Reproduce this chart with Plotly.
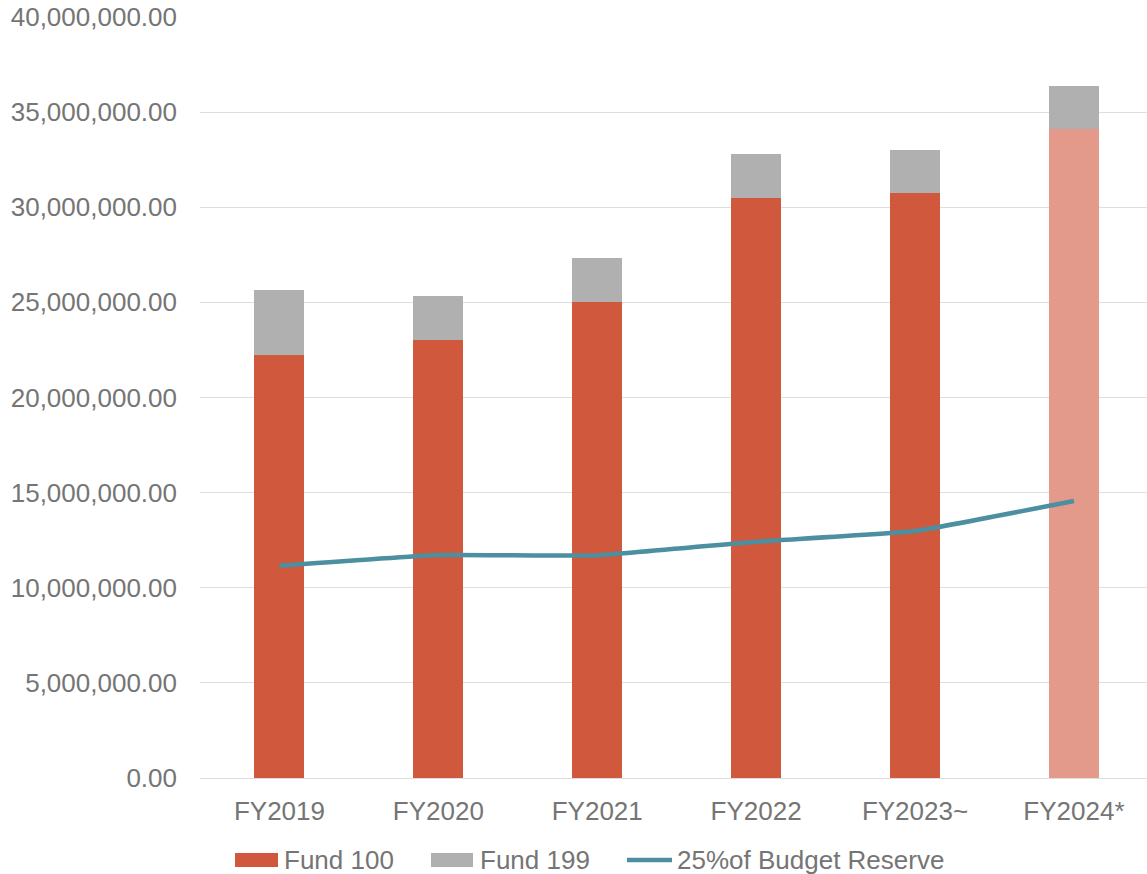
import plotly.graph_objects as go

# Fiscal years on the category axis
categories = ["FY2019", "FY2020", "FY2021", "FY2022", "FY2023~", "FY2024*"]

# Fund balances (dollars)
fund_100 = [22250000, 23040000, 25040000, 30500000, 30730000, 34110000]
fund_199 = [3400000, 2290000, 2280000, 2280000, 2260000, 2280000]

# 25% of budget reserve target (dollars)
budget_reserve_25 = [11160000, 11720000, 11700000, 12420000, 12980000, 14560000]

# Y-axis ticks
y_ticks = [0, 5000000, 10000000, 15000000, 20000000, 25000000, 30000000, 35000000, 40000000]

FONT = "Liberation Sans, Arial, sans-serif"
FONT_SIZE = 26
TEXT_GREY = "#757575"
RED = "#D0593D"
RED_LIGHT = "#E39A8A"
GREY = "#B0B0B0"
TEAL = "#4C8FA0"

# The projected year is shown in a lighter tint
fund_100_colors = [RED] * (len(categories) - 1) + [RED_LIGHT]

fig = go.Figure()
fig.add_trace(go.Bar(
    x=categories, y=fund_100, name="Fund 100",
    marker=dict(color=fund_100_colors, line=dict(width=0)),
    width=0.315,
))
fig.add_trace(go.Bar(
    x=categories, y=fund_199, name="Fund 199",
    marker=dict(color=GREY, line=dict(width=0)),
    width=0.315,
))
fig.add_trace(go.Scatter(
    x=categories, y=budget_reserve_25, name="25%of Budget Reserve",
    mode="lines", line=dict(color=TEAL, width=4.5, shape="spline", smoothing=0.3),
))

fig.update_layout(
    width=1147, height=874,
    margin=dict(l=200, r=0, t=17, b=96),
    paper_bgcolor="white", plot_bgcolor="white",
    barmode="stack",
    showlegend=False,
    font=dict(family=FONT, size=FONT_SIZE, color=TEXT_GREY),
)

fig.update_yaxes(
    range=[0, 40000000],
    tickvals=y_ticks,
    tickformat=",.2f",
    showgrid=True, gridcolor="#DEDEDE", gridwidth=1.3,
    zeroline=False, showline=False,
    ticks="", ticklabelstandoff=22,
    tickfont=dict(family=FONT, size=FONT_SIZE, color=TEXT_GREY),
)
fig.update_xaxes(
    range=[-0.5, 5.46],
    showgrid=False, showline=True, linecolor="#DEDEDE", linewidth=1.3,
    ticks="", ticklabelstandoff=10,
    tickfont=dict(family=FONT, size=FONT_SIZE, color=TEXT_GREY),
)

# Legend row drawn beneath the axis
legend_y = 860
swatches = [
    dict(kind="rect", x0=235, x1=278, color=RED, label="Fund 100", tx=282),
    dict(kind="rect", x0=431, x1=473, color=GREY, label="Fund 199", tx=478),
    dict(kind="line", x0=627, x1=672, color=TEAL, label="25%of Budget Reserve", tx=675),
]
for s in swatches:
    if s["kind"] == "rect":
        fig.add_shape(type="rect", xref="paper", yref="paper",
                      x0=(s["x0"] - 200) / 947, x1=(s["x1"] - 200) / 947,
                      y0=(778 - (legend_y + 7)) / 761, y1=(778 - (legend_y - 7)) / 761,
                      fillcolor=s["color"], line=dict(width=0))
    else:
        fig.add_shape(type="line", xref="paper", yref="paper",
                      x0=(s["x0"] - 200) / 947, x1=(s["x1"] - 200) / 947,
                      y0=(778 - legend_y) / 761, y1=(778 - legend_y) / 761,
                      line=dict(color=s["color"], width=4.5))
    fig.add_annotation(xref="paper", yref="paper",
                       x=(s["tx"] - 200) / 947, y=(778 - legend_y) / 761,
                       text=s["label"], showarrow=False,
                       xanchor="left", yanchor="middle",
                       font=dict(family=FONT, size=FONT_SIZE, color=TEXT_GREY))

fig.write_html("out.html")
